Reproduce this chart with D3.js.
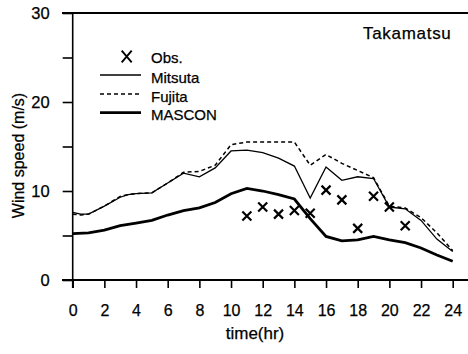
<!DOCTYPE html>
<html>
<head>
<meta charset="utf-8">
<script src="https://cdn.jsdelivr.net/npm/d3@7/dist/d3.min.js"></script>
<style>
  body { margin: 0; background: #fff; }
  svg { display: block; }
  text { font-family: "Liberation Sans", Arial, sans-serif; fill: #000; stroke: #000; stroke-width: 0.25px; }
</style>
</head>
<body>
<script>
// hourly values
const mitsutaT = [0, 0.5, 1, 2, 3, 3.5, 4, 5, 6, 7, 8, 9, 10, 11, 12, 13, 14, 15, 16, 17, 18, 19, 20, 21, 22, 23, 24];
const mitsuta  = [7.6, 7.4, 7.4, 8.3, 9.3, 9.6, 9.7, 9.8, 10.9, 12.0, 11.6, 12.6, 14.5, 14.6, 14.3, 13.7, 12.8, 9.2, 12.7, 11.2, 11.6, 11.4, 8.2, 8.0, 6.7, 4.6, 3.2];
const fujitaT  = [0, 0.5, 1, 2, 3, 3.5, 4, 5, 6, 7, 8, 9, 10, 11, 12, 13, 14, 15, 16, 17, 18, 19, 20, 21, 22, 23, 24];
const fujita   = [7.4, 7.3, 7.4, 8.3, 9.4, 9.6, 9.7, 9.8, 10.9, 12.1, 12.2, 12.9, 15.2, 15.5, 15.5, 15.5, 15.5, 12.9, 14.1, 13.1, 12.3, 11.5, 8.3, 8.1, 7.0, 5.3, 3.3];
const masconT  = [0, 1, 2, 3, 4, 5, 6, 7, 8, 9, 10, 11, 12, 13, 14, 15, 16, 17, 18, 19, 20, 21, 22, 23, 24];
const mascon   = [5.2, 5.3, 5.6, 6.1, 6.4, 6.7, 7.3, 7.8, 8.1, 8.7, 9.7, 10.3, 10.0, 9.6, 9.1, 6.9, 4.9, 4.4, 4.5, 4.9, 4.5, 4.2, 3.6, 2.8, 2.1];
const obsT     = [11, 12, 13, 14, 15, 16, 17, 18, 19, 20, 21];
const obs      = [7.2, 8.2, 7.4, 7.8, 7.5, 10.1, 9.0, 5.8, 9.4, 8.2, 6.1];
const xTicks   = d3.range(0, 25, 2);
const yTicks   = [0, 10, 20, 30];
const yMinor   = [5, 15, 25];

const width = 468, height = 354;
const svg = d3.select("body").append("svg")
    .attr("width", width)
    .attr("height", height);

const x = d3.scaleLinear().domain([0, 24]).range([72.7, 452.7]);
const y = d3.scaleLinear().domain([0, 30]).range([280, 13]);

// frame: top, bottom and left lines
svg.append("line").attr("x1", 62).attr("x2", 468).attr("y1", y(30)).attr("y2", y(30))
    .attr("stroke", "#000").attr("stroke-width", 2);
svg.append("line").attr("x1", 62).attr("x2", 468).attr("y1", y(0)).attr("y2", y(0))
    .attr("stroke", "#000").attr("stroke-width", 2);
svg.append("line").attr("x1", x(0)).attr("x2", x(0)).attr("y1", y(30)).attr("y2", 288)
    .attr("stroke", "#000").attr("stroke-width", 1.6);

const yAxis = svg.append("g")
    .attr("transform", `translate(${x(0)},0)`)
    .call(d3.axisLeft(y).tickValues(yTicks.concat(yMinor)).tickSize(10).tickPadding(13)
        .tickFormat(d => yTicks.includes(d) ? d : ""));
yAxis.select(".domain").remove();
yAxis.selectAll(".tick line").attr("stroke", "#000").attr("stroke-width", 1.6);
yAxis.selectAll("text").style("font-size", "16.5px").attr("font-family", null);

const xAxis = svg.append("g")
    .attr("transform", `translate(0,${y(0)})`)
    .call(d3.axisBottom(x).tickValues(xTicks).tickSize(8).tickPadding(17));
xAxis.select(".domain").remove();
xAxis.selectAll(".tick line").attr("stroke", "#000").attr("stroke-width", 1.6);
xAxis.selectAll("text").style("font-size", "16px").attr("font-family", null);

svg.append("text")
    .attr("transform", `translate(23.5,155.5) rotate(-90)`)
    .attr("text-anchor", "middle")
    .style("font-size", "16px")
    .text("Wind speed (m/s)");

svg.append("text")
    .attr("x", 255)
    .attr("y", 338.5)
    .attr("text-anchor", "middle")
    .style("font-size", "17px")
    .text("time(hr)");

svg.append("text")
    .attr("x", 451.5).attr("y", 39.3)
    .attr("text-anchor", "end")
    .style("font-size", "17px")
    .style("letter-spacing", "0.7px")
    .text("Takamatsu");

const line = d3.line().x(d => x(d[0])).y(d => y(d[1]));

svg.append("path")
    .datum(d3.zip(fujitaT, fujita))
    .attr("d", line)
    .attr("fill", "none").attr("stroke", "#000")
    .attr("stroke-width", 1.5).attr("stroke-dasharray", "4,3");

svg.append("path")
    .datum(d3.zip(mitsutaT, mitsuta))
    .attr("d", line)
    .attr("fill", "none").attr("stroke", "#000")
    .attr("stroke-width", 1.3);

svg.append("path")
    .datum(d3.zip(masconT, mascon))
    .attr("d", line)
    .attr("fill", "none").attr("stroke", "#000")
    .attr("stroke-width", 2.8);

function cross(g, cx, cy, rx, ry, w) {
    g.append("path")
        .attr("d", `M${cx - rx},${cy - ry}L${cx + rx},${cy + ry}M${cx - rx},${cy + ry}L${cx + rx},${cy - ry}`)
        .attr("stroke", "#000").attr("stroke-width", w).attr("fill", "none");
}

const obsG = svg.append("g");
d3.zip(obsT, obs).forEach(d => cross(obsG, x(d[0]), y(d[1]), 4.5, 4.5, 2.2));

// legend
const leg = svg.append("g");
const legText = (ty, label) => leg.append("text").attr("x", 151).attr("y", ty)
    .style("font-size", "15px").text(label);
cross(leg, 126.7, 56.5, 5, 5.8, 1.9);
legText(62.7, "Obs.");
leg.append("line").attr("x1", 100).attr("x2", 141).attr("y1", 75).attr("y2", 75)
    .attr("stroke", "#000").attr("stroke-width", 1.3);
legText(82.5, "Mitsuta");
leg.append("line").attr("x1", 100).attr("x2", 141).attr("y1", 94).attr("y2", 94)
    .attr("stroke", "#000").attr("stroke-width", 1.5).attr("stroke-dasharray", "4,3");
legText(101.5, "Fujita");
leg.append("line").attr("x1", 100).attr("x2", 141).attr("y1", 112.7).attr("y2", 112.7)
    .attr("stroke", "#000").attr("stroke-width", 2.8);
legText(120.3, "MASCON");
</script>
</body>
</html>
